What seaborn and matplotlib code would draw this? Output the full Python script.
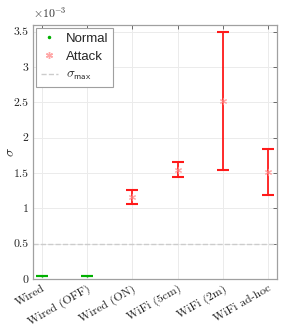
import numpy as np
import matplotlib
matplotlib.use('Agg')
import matplotlib.pyplot as plt
import seaborn as sns
from matplotlib.ticker import FuncFormatter
from matplotlib.lines import Line2D

# values in units of 1e-3
categories = ['Wired', 'Wired (OFF)', 'Wired (ON)', 'WiFi (5cm)', 'WiFi (2m)', 'WiFi ad-hoc']
groups = ['Normal', 'Normal', 'Attack', 'Attack', 'Attack', 'Attack']
sigma_mean = [0.047, 0.042, 1.155, 1.546, 2.52, 1.51]
sigma_low = [0.045, 0.040, 1.06, 1.443, 1.54, 1.19]
sigma_high = [0.049, 0.044, 1.255, 1.655, 3.49, 1.84]
sigma_max = 0.5
yticks = [0, 0.5, 1, 1.5, 2, 2.5, 3, 3.5]

sns.set_style('whitegrid')
plt.rcParams['mathtext.fontset'] = 'cm'

fig = plt.figure(figsize=(2.81, 3.33), dpi=100)
ax = fig.add_axes([0.117, 0.162, 0.869, 0.764])

colors = {'Normal': '#00b000', 'Attack': '#ff1a1a'}
marker_colors = {'Normal': '#00b000', 'Attack': '#ff8a8a'}
x = np.arange(len(categories))
mean = np.array(sigma_mean) * 1e-3
lo = np.array(sigma_low) * 1e-3
hi = np.array(sigma_high) * 1e-3

for i, g in enumerate(groups):
    ax.errorbar(x[i], mean[i], yerr=[[mean[i] - lo[i]], [hi[i] - mean[i]]],
                fmt='none', ecolor=colors[g], elinewidth=1.3, capsize=4.3,
                capthick=1.5, zorder=3)

sns.scatterplot(x=x[:2], y=mean[:2], color=marker_colors['Normal'], marker='.',
                s=10, linewidth=0, ax=ax, zorder=4, legend=False)
sns.scatterplot(x=x[2:], y=mean[2:], color=marker_colors['Attack'], marker=(6, 2, 0),
                s=20, linewidth=0.8, edgecolor=marker_colors['Attack'], alpha=0.75,
                ax=ax, zorder=4, legend=False)
ax.axhline(sigma_max * 1e-3, color='#cccccc', linestyle='--', linewidth=1.0, zorder=2)

ax.set_xlim(-0.2, 5.2)
ax.set_ylim(0, 3.6e-3)
ax.set_xticks(x)
ax.set_xticklabels(categories, rotation=30, ha='right', rotation_mode='anchor',
                   fontfamily='cmr10', fontsize=8.5)
ax.set_yticks([v * 1e-3 for v in yticks])
ax.yaxis.set_major_formatter(FuncFormatter(lambda v, p: '%g' % round(v * 1e3, 3)))
for lab in ax.get_yticklabels():
    lab.set_fontfamily('cmr10')
    lab.set_fontsize(8.5)
ax.text(0.0, 1.015, r'$\times 10^{-3}$', transform=ax.transAxes, fontsize=8.5,
        ha='left', va='bottom', color='#333333')
ax.set_ylabel(r'$\sigma$', fontsize=10)
ax.yaxis.set_label_coords(-0.065, 0.5)

ax.grid(True, color='#ebebeb', linewidth=0.7)
ax.tick_params(direction='in', top=True, right=True, length=3, width=0.6,
               color='#555555', labelcolor='#222222', pad=3)
for s in ax.spines.values():
    s.set_color('#a0a0a0')
    s.set_linewidth(0.9)

handles = [
    Line2D([], [], linestyle='none', marker='.', markersize=3, color=marker_colors['Normal']),
    Line2D([], [], linestyle='none', marker=(6, 2, 0), markersize=5, color=marker_colors['Attack'], alpha=0.75),
    Line2D([], [], linestyle='--', color='#cccccc', linewidth=1.0),
]
leg = ax.legend(handles, ['Normal', 'Attack', r'$\sigma_{\mathsf{max}}$'], loc='upper left',
                prop={'family': 'Liberation Sans', 'size': 9.5}, fancybox=False,
                framealpha=1, edgecolor='#a0a0a0', borderaxespad=0.25,
                handlelength=1.3, handletextpad=0.6, labelspacing=0.45, borderpad=0.35)
leg.get_frame().set_linewidth(0.8)

fig.savefig('out.png', dpi=100)
